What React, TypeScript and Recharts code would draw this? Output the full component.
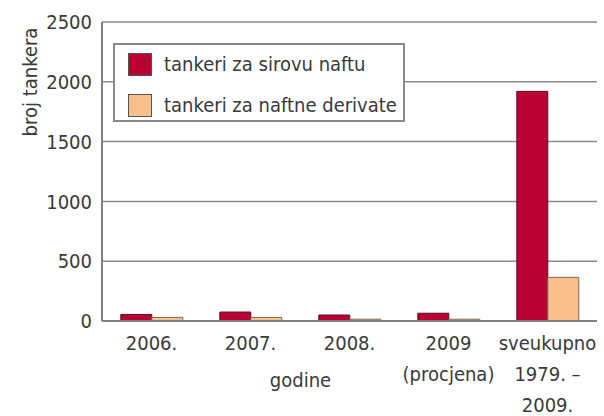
import React from 'react';
import { BarChart, Bar, XAxis, YAxis, CartesianGrid } from 'recharts';

const categories = ['2006.', '2007.', '2008.', '2009\n(procjena)', 'sveukupno\n1979. –\n2009.'];
const crudeOil = [55, 75, 50, 65, 1920];
const products = [30, 30, 15, 15, 365];
const yTicks = [0, 500, 1000, 1500, 2000, 2500];

const seriesNames = ['tankeri za sirovu naftu', 'tankeri za naftne derivate'];
const COLORS = ['#b80233', '#f9bf8d'];

const data = categories.map((name, i) => ({ name, crude: crudeOil[i], products: products[i] }));

const FONT = '"Liberation Sans Narrow", "DejaVu Sans Condensed", "Roboto", sans-serif';
const TEXT = '#3a3a3a';
const FS = 20;

function XTick(props: any) {
  const { x, y, payload } = props;
  const lines = String(payload.value).split('\n');
  return (
    <g transform={`translate(${x},${y})`}>
      {lines.map((l, i) => (
        <text key={i} x={0} y={i * 31 + 21} textAnchor="middle" fill={TEXT} fontSize={FS} fontFamily={FONT}>
          {l}
        </text>
      ))}
    </g>
  );
}

function YTitle() {
  return (
    <text transform="translate(37,82) rotate(-90)" textAnchor="middle" fill={TEXT} fontSize={FS} fontFamily={FONT}>
      broj tankera
    </text>
  );
}

function LegendBox() {
  return (
    <div
      style={{
        position: 'absolute',
        left: 113,
        top: 43,
        width: 292,
        height: 79,
        background: '#fff',
        border: '2px solid #8a8a8a',
        boxSizing: 'border-box',
        fontFamily: FONT,
        fontSize: FS,
        color: TEXT,
      }}
    >
      {seriesNames.map((s, i) => (
        <div key={s} style={{ position: 'absolute', left: 13, top: 7 + i * 41, display: 'flex', alignItems: 'center' }}>
          <div style={{ width: 24, height: 23, background: COLORS[i], border: '1px solid #555', boxSizing: 'border-box' }} />
          <span style={{ marginLeft: 12 }}>{s}</span>
        </div>
      ))}
    </div>
  );
}

export default function App() {
  return (
    <div style={{ position: 'absolute', left: 0, top: 0, width: 604, height: 416, background: '#fff' }}>
      <BarChart
        width={604}
        height={416}
        data={data}
        margin={{ top: 22, right: 7, left: 42, bottom: 20 }}
        barCategoryGap="19%"
        barGap={0}
      >
        <CartesianGrid vertical={false} stroke="#8a8a8a" strokeWidth={1.5} />
        <XAxis
          dataKey="name"
          interval={0}
          height={75}
          tick={<XTick />}
          tickLine={false}
          axisLine={{ stroke: '#808080', strokeWidth: 2 }}
          label={{ value: 'godine', position: 'insideBottom', dx: -49, dy: -4, fill: TEXT, fontSize: FS, fontFamily: FONT }}
        />
        <YAxis
          domain={[0, 2500]}
          ticks={yTicks}
          width={60}
          tickLine={false}
          axisLine={{ stroke: '#808080', strokeWidth: 2 }}
          tick={{ fill: TEXT, fontSize: FS, fontFamily: FONT }}
          tickMargin={4}
          label={<YTitle />}
        />
        <YAxis
          yAxisId="frame"
          orientation="right"
          domain={[0, 2500]}
          width={0}
          tick={false}
          tickLine={false}
          axisLine={{ stroke: '#808080', strokeWidth: 2 }}
        />
        <Bar dataKey="crude" fill={COLORS[0]} stroke="#5a1020" strokeWidth={1} isAnimationActive={false} />
        <Bar dataKey="products" fill={COLORS[1]} stroke="#7a6a5a" strokeWidth={1} isAnimationActive={false} />
      </BarChart>
      <LegendBox />
    </div>
  );
}
